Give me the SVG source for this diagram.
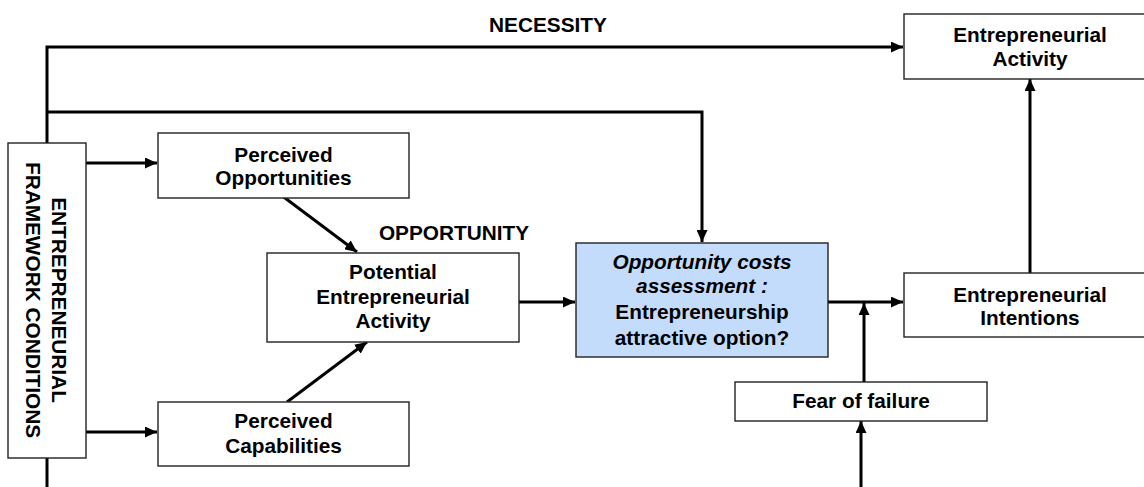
<svg xmlns="http://www.w3.org/2000/svg" width="1144" height="487" viewBox="0 0 1144 487">
<defs>
<style>
.box{fill:#fff;stroke:#222;stroke-width:1.4}
.blue{fill:#C4DCFC;stroke:#222;stroke-width:1.4}
.t{font-family:"Liberation Sans",Arial,sans-serif;font-weight:bold;font-size:20.8px;fill:#000;text-anchor:middle}
.i{font-style:italic}
.c{fill:none;stroke:#000;stroke-width:3}
</style>
<marker id="ah" markerUnits="userSpaceOnUse" markerWidth="13" markerHeight="11" refX="12" refY="5.5" orient="auto">
<path d="M0,0 L12,5.5 L0,11 z" fill="#000"/>
</marker>
</defs>
<rect width="1144" height="487" fill="#fff"/>
<g id="connectors">
<path class="c" d="M47,143 V47 H903" marker-end="url(#ah)"/>
<path class="c" d="M47,112 H702 V242" marker-end="url(#ah)"/>
<path class="c" d="M47,458 V487"/>
<path class="c" d="M86,163 H157" marker-end="url(#ah)"/>
<path class="c" d="M86,432 H157" marker-end="url(#ah)"/>
<path class="c" d="M277,192 L357,252" marker-end="url(#ah)"/>
<path class="c" d="M287,402 L367,342" marker-end="url(#ah)"/>
<path class="c" d="M515,302 H575" marker-end="url(#ah)"/>
<path class="c" d="M824,302 H903" marker-end="url(#ah)"/>
<path class="c" d="M1030,273 V79" marker-end="url(#ah)"/>
<path class="c" d="M864,382 V303" marker-end="url(#ah)"/>
<path class="c" d="M861,487 V421" marker-end="url(#ah)"/>
<text class="t" x="548" y="32">NECESSITY</text>
<text class="t" x="454" y="240">OPPORTUNITY</text>
</g>
<g id="efc">
<rect class="box" x="8" y="143" width="78" height="315"/>
<text class="t" transform="translate(52,300) rotate(90)">ENTREPRENEURIAL</text>
<text class="t" transform="translate(26,300) rotate(90)">FRAMEWORK CONDITIONS</text>
</g>
<g id="po">
<rect class="box" x="158" y="133" width="251" height="65"/>
<text class="t" x="283.5" y="162">Perceived</text>
<text class="t" x="283.5" y="185">Opportunities</text>
</g>
<g id="pc">
<rect class="box" x="158" y="402" width="251" height="64"/>
<text class="t" x="283.5" y="428">Perceived</text>
<text class="t" x="283.5" y="453">Capabilities</text>
</g>
<g id="pea">
<rect class="box" x="267" y="253" width="252" height="89"/>
<text class="t" x="393" y="279">Potential</text>
<text class="t" x="393" y="304">Entrepreneurial</text>
<text class="t" x="393" y="328">Activity</text>
</g>
<g id="oca">
<rect class="blue" x="576" y="243" width="252" height="114"/>
<text class="t i" x="702" y="269">Opportunity costs</text>
<text class="t i" x="702" y="293">assessment :</text>
<text class="t" x="702" y="319">Entrepreneurship</text>
<text class="t" x="702" y="345">attractive option?</text>
</g>
<g id="ea">
<rect class="box" x="904" y="14" width="252" height="65"/>
<text class="t" x="1030" y="42">Entrepreneurial</text>
<text class="t" x="1030" y="66">Activity</text>
</g>
<g id="ei">
<rect class="box" x="904" y="273" width="252" height="64"/>
<text class="t" x="1030" y="302">Entrepreneurial</text>
<text class="t" x="1030" y="325">Intentions</text>
</g>
<g id="fof">
<rect class="box" x="735" y="382" width="252" height="39"/>
<text class="t" x="861" y="408">Fear of failure</text>
</g>
</svg>
